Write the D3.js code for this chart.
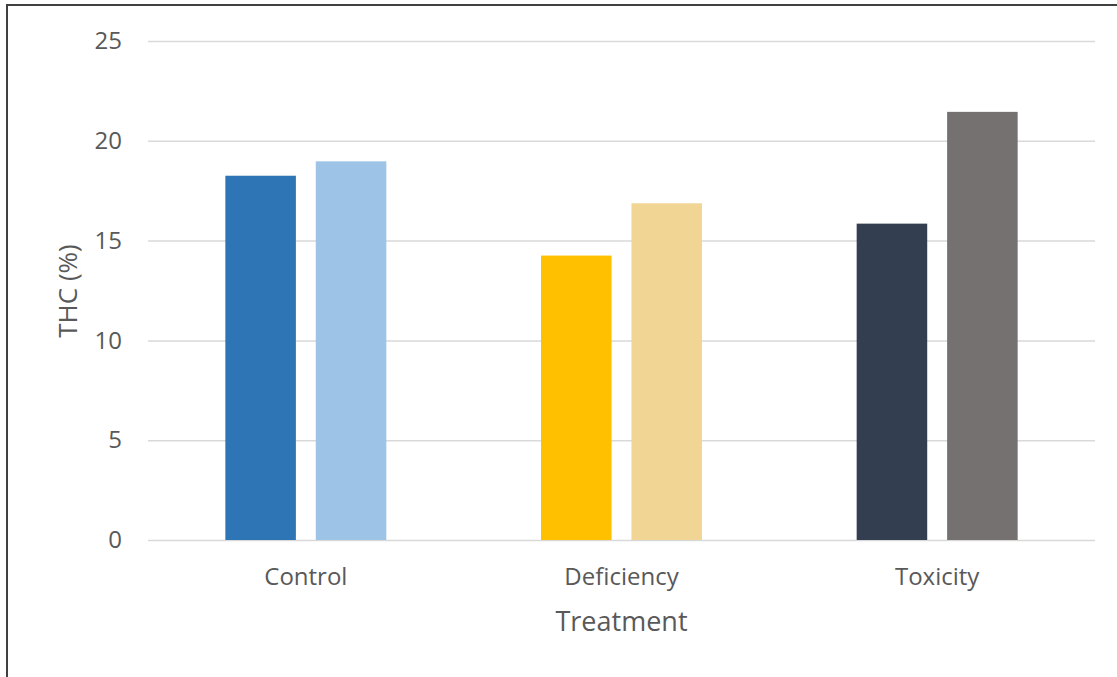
<!DOCTYPE html>
<html>
<head>
<meta charset="utf-8">
<script src="https://cdn.jsdelivr.net/npm/d3@7"></script>
<style>
  html, body { margin: 0; padding: 0; background: #fff; }
  svg { display: block; font-family: "Open Sans", "Noto Sans", sans-serif; }
</style>
</head>
<body>
<svg id="chart" width="1117" height="677"></svg>
<script>
// THC content by nutrient treatment, two bars per treatment
const treatments = ["Control", "Deficiency", "Toxicity"];
const firstValues = [18.25, 14.25, 15.85];
const secondValues = [18.97, 16.87, 21.45];
const firstColors = ["#2E75B6", "#FFC000", "#333F50"];
const secondColors = ["#9DC3E6", "#F1D594", "#767171"];
const yTicks = [0, 5, 10, 15, 20, 25];

const rows = treatments.map((t, i) => ({
  treatment: t,
  bars: [
    { key: 0, value: firstValues[i], color: firstColors[i] },
    { key: 1, value: secondValues[i], color: secondColors[i] }
  ]
}));

const svg = d3.select("#chart");
const plot = { left: 148, right: 1095, top: 41, bottom: 540 };
const textColor = "#595959";

// Outer frame
svg.append("rect")
  .attr("x", 7).attr("y", 5)
  .attr("width", 1300).attr("height", 900)
  .attr("fill", "none")
  .attr("stroke", "#404040")
  .attr("stroke-width", 2);

const x0 = d3.scaleBand()
  .domain(treatments)
  .range([plot.left, plot.right])
  .paddingInner(0.49)
  .paddingOuter(0.245);

const x1 = d3.scaleBand()
  .domain([0, 1])
  .range([0, x0.bandwidth()])
  .paddingInner(0.22)
  .paddingOuter(0);

const y = d3.scaleLinear().domain([0, 25]).range([plot.bottom, plot.top]);

// Gridlines and value labels
const yAxis = d3.axisLeft(y)
  .tickValues(yTicks)
  .tickSize(-(plot.right - plot.left))
  .tickPadding(26);

const gy = svg.append("g")
  .attr("transform", `translate(${plot.left},0)`)
  .call(yAxis);
gy.select(".domain").remove();
gy.selectAll(".tick line")
  .attr("stroke", "#D9D9D9")
  .attr("stroke-width", 1.5);
gy.selectAll(".tick text")
  .attr("fill", textColor)
  .attr("font-size", 24)
  .attr("font-family", "Open Sans, sans-serif");

// Bars
const groups = svg.append("g")
  .selectAll("g")
  .data(rows)
  .join("g")
  .attr("transform", d => `translate(${x0(d.treatment)},0)`);

groups.selectAll("rect")
  .data(d => d.bars)
  .join("rect")
  .attr("x", d => x1(d.key))
  .attr("width", x1.bandwidth())
  .attr("y", d => y(d.value))
  .attr("height", d => y(0) - y(d.value))
  .attr("fill", d => d.color);

// Category axis (labels only)
const xAxis = d3.axisBottom(x0).tickSize(0).tickPadding(28);
const gx = svg.append("g")
  .attr("transform", `translate(0,${plot.bottom})`)
  .call(xAxis);
gx.select(".domain").remove();
gx.selectAll(".tick text")
  .attr("fill", textColor)
  .attr("font-size", 24)
  .attr("font-family", "Open Sans, sans-serif");

// Axis titles
svg.append("text")
  .attr("x", (plot.left + plot.right) / 2)
  .attr("y", 631)
  .attr("text-anchor", "middle")
  .attr("fill", textColor)
  .attr("font-size", 27)
  .text("Treatment");

svg.append("text")
  .attr("transform", "translate(77,291) rotate(-90)")
  .attr("text-anchor", "middle")
  .attr("fill", textColor)
  .attr("font-size", 26)
  .text("THC (%)");
</script>
</body>
</html>
